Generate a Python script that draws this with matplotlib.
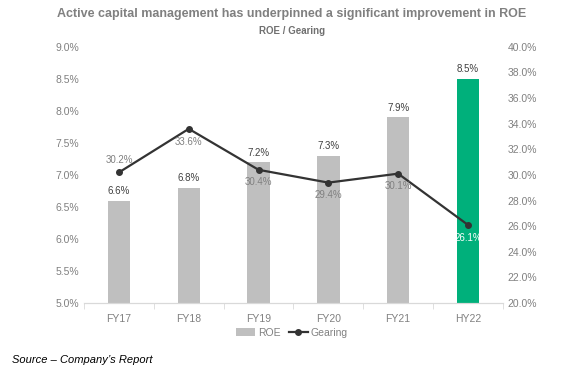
import matplotlib.pyplot as plt
import numpy as np

plt.rcParams['font.family'] = ['Liberation Sans', 'DejaVu Sans']

periods = ["FY17", "FY18", "FY19", "FY20", "FY21", "HY22"]
roe = [6.6, 6.8, 7.2, 7.3, 7.9, 8.5]
gearing = [30.2, 33.6, 30.4, 29.4, 30.1, 26.1]
bar_colors = ["#bfbfbf"] * 5 + ["#00b07b"]

grey = "#808080"
x = np.arange(len(periods))

fig = plt.figure(figsize=(5.84, 3.75), dpi=100)
ax = fig.add_axes([0.144, 0.192, 0.717, 0.683])
ax2 = ax.twinx()
ax.set_zorder(ax2.get_zorder() - 1)
ax2.patch.set_visible(False)

bars = ax.bar(x, roe, width=0.32, color=bar_colors, label="ROE")
ax.set_ylim(5.0, 9.0)
ax.set_xlim(-0.5, 5.5)
ax.set_yticks(np.arange(5.0, 9.01, 0.5))
ax.set_yticklabels([f"{v:.1f}%" for v in np.arange(5.0, 9.01, 0.5)])
ax.set_xticks(x)
ax.set_xticklabels(periods)
ax.set_xticks(np.arange(-0.5, 5.6, 1), minor=True)
ax.tick_params(axis="x", which="major", length=0, colors=grey, labelsize=7.5, pad=8)
ax.tick_params(axis="x", which="minor", length=4, color="#d9d9d9")
ax.tick_params(axis="y", length=0, colors=grey, labelsize=7.5)

for i, v in enumerate(roe):
    ax.text(i, v + 0.07, f"{v:.1f}%", ha="center", va="bottom", fontsize=7, color="#404040")

line, = ax2.plot(x, gearing, color="#333333", lw=1.6, marker="o", ms=4, label="Gearing")
ax2.set_ylim(20, 40)
ax2.set_yticks(np.arange(20, 40.1, 2))
ax2.set_yticklabels([f"{v:.1f}%" for v in np.arange(20, 40.1, 2)])
ax2.tick_params(axis="y", length=0, colors=grey, labelsize=7.5)

for i, v in enumerate(gearing):
    if i == 0:
        ax2.text(i, v + 0.6, f"{v:.1f}%", ha="center", va="bottom", fontsize=7, color=grey)
    else:
        c = "white" if i == 5 else grey
        ax2.text(i, v - 0.6, f"{v:.1f}%", ha="center", va="top", fontsize=7, color=c)

for a in (ax, ax2):
    for s in ("top", "left", "right"):
        a.spines[s].set_visible(False)
    a.spines["bottom"].set_color("#d9d9d9")

fig.legend([bars, line], ["ROE", "Gearing"], loc="center", bbox_to_anchor=(0.5, 0.113),
           ncol=2, frameon=False, fontsize=7.5, labelcolor=grey,
           handlelength=1.8, handletextpad=0.3, columnspacing=0.8)

fig.text(0.5, 0.963, "Active capital management has underpinned a significant improvement in ROE",
         ha="center", va="center", fontsize=9, fontweight="bold", color=grey)
fig.text(0.5, 0.918, "ROE / Gearing", ha="center", va="center", fontsize=7,
         fontweight="bold", color="#707070")
fig.text(0.02, 0.04, "Source \u2013 Company\u2019s Report", ha="left", va="center",
         fontsize=8, style="italic", color="black")

fig.savefig("out.png", dpi=100)
